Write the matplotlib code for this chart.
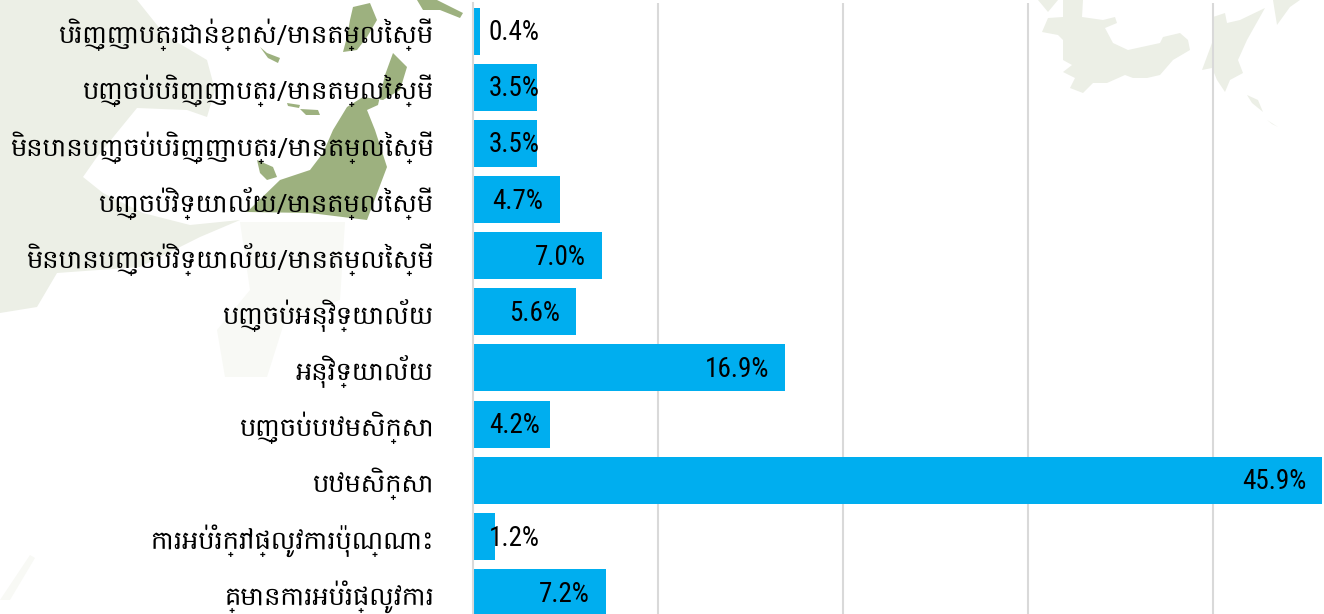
import matplotlib
matplotlib.use("Agg")
import matplotlib.pyplot as plt
from matplotlib.patches import Polygon

W, H = 1324, 614

labels = [
    "បរិញ្ញាបត្រជាន់ខ្ពស់/មានតម្លៃស្មើ",
    "បញ្ចប់បរិញ្ញាបត្រ/មានតម្លៃស្មើ",
    "មិនបានបញ្ចប់បរិញ្ញាបត្រ/មានតម្លៃស្មើ",
    "បញ្ចប់វិទ្យាល័យ/មានតម្លៃស្មើ",
    "មិនបានបញ្ចប់វិទ្យាល័យ/មានតម្លៃស្មើ",
    "បញ្ចប់អនុវិទ្យាល័យ",
    "អនុវិទ្យាល័យ",
    "បញ្ចប់បឋមសិក្សា",
    "បឋមសិក្សា",
    "ការអប់រំក្រៅផ្លូវការប៉ុណ្ណោះ",
    "គ្មានការអប់រំផ្លូវការ",
]
values = [0.4, 3.5, 3.5, 4.7, 7.0, 5.6, 16.9, 4.2, 45.9, 1.2, 7.2]

KHMER = ["Hanuman", "Noto Sans Khmer", "Khmer", "DejaVu Sans"]
NARROW = ["Roboto Condensed", "Archivo Narrow", "Liberation Sans", "DejaVu Sans"]
PALE = "#ECEFE6"
FAINT = "#F8F9F5"
GREEN = "#9DB17F"

# faded map behind the chart, in picture pixels
faint_shapes = [
    [(240, 222), (345, 222), (340, 300), (285, 320), (267, 377), (225, 377), (217, 330), (250, 290)],
    [(0, 600), (30, 555), (35, 558), (10, 600)],
]
pale_shapes = [
    [(0, 0), (137, 0), (165, 35), (207, 60), (215, 90), (207, 117), (187, 110), (137, 108), (97, 157),
     (83, 177), (103, 193), (143, 213), (190, 225), (240, 220), (200, 237), (140, 267), (57, 273),
     (37, 307), (0, 313)],
    [(1042, 32), (1048, 18), (1063, 17), (1063, 0), (1083, 0), (1082, 17), (1103, 20), (1115, 17),
     (1117, 23), (1105, 28), (1113, 43), (1128, 50), (1160, 43), (1163, 37), (1180, 33), (1188, 40),
     (1190, 50), (1173, 60), (1160, 75), (1147, 78), (1133, 78), (1125, 75), (1107, 83), (1093, 83),
     (1083, 93), (1070, 88), (1075, 78), (1063, 72), (1072, 65), (1063, 60), (1063, 40), (1058, 35)],
    [(1202, 70), (1212, 43), (1213, 17), (1225, 13), (1227, 23), (1240, 20), (1265, 8), (1247, 40),
     (1238, 60), (1243, 73), (1230, 80), (1225, 92), (1217, 80), (1212, 68)],
    [(1277, 25), (1290, 7), (1300, 0), (1273, 0)],
    [(1038, 0), (1058, 0), (1048, 12)],
    [(1247, 95), (1258, 100), (1263, 112), (1252, 103)],
    [(1267, 120), (1278, 127), (1272, 124)],
]
green_shapes = [
    [(247, 212), (280, 180), (310, 170), (323, 153), (333, 130), (347, 107), (363, 97), (383, 100),
     (400, 90), (407, 67), (393, 53), (385, 75), (378, 105), (367, 110), (375, 130), (387, 167),
     (367, 220), (310, 213)],
    [(343, 52), (357, 50), (367, 37), (377, 20), (370, 3), (353, 7), (350, 20), (347, 37)],
    [(417, 0), (437, 0), (463, 13), (460, 18), (440, 10), (423, 10)],
    [(257, 160), (273, 167), (277, 177), (267, 180), (260, 173)],
    [(260, 47), (267, 53), (280, 58), (278, 63), (268, 58)],
    [(287, 103), (300, 105), (299, 108), (288, 106)],
    [(300, 109), (318, 110), (320, 115), (306, 115)],
]

fig = plt.figure(figsize=(W / 100, H / 100), dpi=100)

bg = fig.add_axes([0, 0, 1, 1], zorder=0)
bg.set_xlim(0, W)
bg.set_ylim(H, 0)
bg.axis("off")
for pts in faint_shapes:
    bg.add_patch(Polygon(pts, closed=True, fc=FAINT, ec="none"))
for pts in pale_shapes:
    bg.add_patch(Polygon(pts, closed=True, fc=PALE, ec="none"))
for pts in green_shapes:
    bg.add_patch(Polygon(pts, closed=True, fc=GREEN, ec="none"))

ax = fig.add_axes([472.5 / W, 0, 1 - 472.5 / W, 1 - 3 / H], zorder=1)
ax.patch.set_alpha(0)

pos = list(range(len(values)))
ax.barh(pos, values, height=0.837, color="#00AEEF", zorder=2)
ax.set_xlim(0, 46.0)
ax.set_ylim(10.383, -0.499)

ax.set_xticks([10, 20, 30, 40])
ax.set_xticklabels([])
ax.grid(axis="x", color="#D9D9D9", linewidth=1.5, zorder=1)
ax.tick_params(axis="both", length=0)
for side in ["top", "right", "bottom"]:
    ax.spines[side].set_visible(False)
ax.spines["left"].set_color("#D9D9D9")
ax.spines["left"].set_linewidth(1.5)

ax.set_yticks(pos)
ax.set_yticklabels(labels, family=KHMER, fontsize=18.5, color="black")
ax.tick_params(axis="y", pad=28)

for p, v in zip(pos, values):
    x = max(v - 0.865, 3.63)
    ax.text(x, p + 0.03, f"{v:.1f}%", ha="right", va="center", family=NARROW,
            fontsize=19.5, color="black", zorder=3)

fig.savefig("out.png", dpi=100)
